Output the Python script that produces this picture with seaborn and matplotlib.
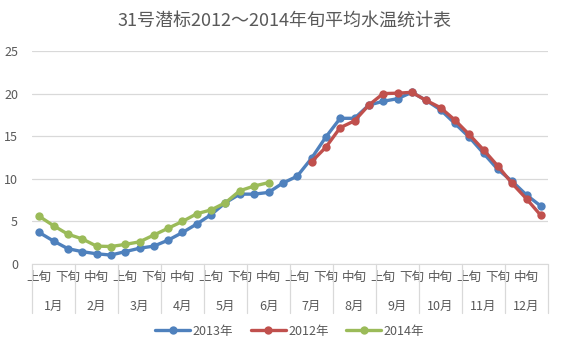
import numpy as np
import pandas as pd
import matplotlib
matplotlib.use("Agg")
import matplotlib.pyplot as plt
import seaborn as sns

# data (36 dekads, 1月上旬 .. 12月下旬)
months = ["1月", "2月", "3月", "4月", "5月", "6月", "7月", "8月", "9月", "10月", "11月", "12月"]
dekads = ["上旬", "中旬", "下旬"]

temp_2013 = [3.7, 2.7, 1.8, 1.45, 1.2, 1.05, 1.45, 1.85, 2.1, 2.8, 3.7, 4.7,
             5.8, 7.2, 8.2, 8.2, 8.4, 9.5, 10.3, 12.4, 14.9, 17.1, 17.1, 18.65,
             19.1, 19.4, 20.15, 19.2, 18.1, 16.5, 14.9, 13.0, 11.1, 9.7, 8.1, 6.8]
temp_2012 = [None] * 19 + [12.0, 13.7, 16.0, 16.8, 18.65,
                           20.0, 20.05, 20.15, 19.2, 18.35, 16.9, 15.2, 13.4, 11.5, 9.45, 7.65, 5.7]
temp_2014 = [5.6, 4.5, 3.5, 2.95, 2.1, 2.05, 2.3, 2.6, 3.4, 4.2, 5.0, 5.9,
             6.35, 7.2, 8.6, 9.15, 9.55] + [None] * 19

series = {"2013年": temp_2013, "2012年": temp_2012, "2014年": temp_2014}
colors = {"2013年": "#4F81BD", "2012年": "#C0504D", "2014年": "#9BBB59"}

rows = []
for year, vals in series.items():
    for i, v in enumerate(vals):
        if v is not None:
            rows.append({"idx": i, "temp": v, "year": year})
df = pd.DataFrame(rows)

sns.set_style("white")
plt.rcParams["font.family"] = ["Noto Sans CJK SC", "DejaVu Sans"]

fig = plt.figure(figsize=(5.68, 3.52), dpi=100)
ax = fig.add_axes([32 / 568, 1 - 264 / 352, 516 / 568, 213 / 352])

sns.lineplot(data=df, x="idx", y="temp", hue="year", hue_order=list(series.keys()),
             palette=colors, marker="o", markersize=6, markeredgewidth=0,
             linewidth=2.4, ax=ax, legend=False)

n = len(months) * 3
ax.set_xlim(-0.5, n - 0.5)
ax.set_ylim(0, 25)
ax.set_yticks(range(0, 26, 5))
ax.yaxis.grid(True, color="#D9D9D9", linewidth=0.9)
ax.set_axisbelow(True)
for s in ["top", "right", "left"]:
    ax.spines[s].set_visible(False)
ax.spines["bottom"].set_color("#D9D9D9")
ax.tick_params(axis="y", length=0, labelsize=9, labelcolor="#595959", pad=10)
ax.set_xlabel("")
ax.set_ylabel("")

# every other dekad label, as Excel shows them
tick_pos = list(range(0, n, 2))
ax.set_xticks(tick_pos)
ax.set_xticklabels([dekads[i % 3] for i in tick_pos])
ax.tick_params(axis="x", length=0, labelsize=9, labelcolor="#595959", pad=5)

# month row and separators
trans = ax.get_xaxis_transform()
for k, m in enumerate(months):
    ax.text(3 * k + 1, -0.2, m, transform=trans, ha="center", va="center",
            fontsize=9, color="#595959")
for k in range(len(months) + 1):
    ax.plot([3 * k - 0.5, 3 * k - 0.5], [0, -0.23], transform=trans,
            color="#D9D9D9", linewidth=0.9, clip_on=False)

fig.text(0.5, 1 - 22 / 352, "31号潜标2012～2014年旬平均水温统计表",
         ha="center", va="center", fontsize=13, color="#595959")

handles = [plt.Line2D([], [], color=colors[y], marker="o", markersize=6,
                      markeredgewidth=0, linewidth=2.4) for y in series]
fig.legend(handles, list(series.keys()), loc="center", ncol=3, frameon=False,
           bbox_to_anchor=(0.51, 1 - 331 / 352), fontsize=9, labelcolor="#595959",
           handlelength=2.8, columnspacing=1.4, handletextpad=0.2)

fig.savefig("out.png", dpi=100)
